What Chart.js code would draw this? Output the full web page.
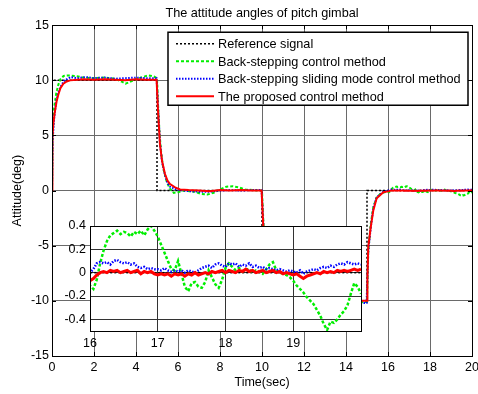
<!DOCTYPE html>
<html>
<head>
<meta charset="utf-8">
<script src="https://cdn.jsdelivr.net/npm/chart.js@4"></script>
<style>
  body { margin: 0; background: #fff; }
  #wrap { position: relative; width: 478px; height: 394px; }
  #main { position: absolute; left: 0; top: 0; }
  #inset { position: absolute; left: 50px; top: 206px; }
</style>
</head>
<body>
<div id="wrap">
  <canvas id="main" width="478" height="394"></canvas>
  <canvas id="inset" width="320" height="150"></canvas>
</div>
<script>
var FONT = 'Arial, "Liberation Sans", sans-serif';

// axis ticks
var xTicksMain = [0, 2, 4, 6, 8, 10, 12, 14, 16, 18, 20];
var yTicksMain = [-15, -10, -5, 0, 5, 10, 15];
var xTicksInset = [16, 17, 18, 19, 20];
var yTicksInset = [-0.4, -0.2, 0, 0.2, 0.4];

var seriesNames = ['Reference signal', 'Back-stepping control method',
  'Back-stepping sliding mode control method', 'The proposed control method'];

// reference signal
var refT = [0, 0, 5, 5, 10, 10, 15, 15, 20];
var refV = [0, 10, 10, 0, 0, -10, -10, 0, 0];

// back-stepping, t < 16
var bsT = [0, 0.03, 0.1, 0.2, 0.3, 0.4, 0.55, 0.8, 1.1, 1.5, 2, 2.5, 3, 3.3, 3.5, 3.7, 4, 4.3, 4.6, 4.85,
  5.0, 5.05, 5.12, 5.2, 5.3, 5.45, 5.6, 5.8, 6.0, 6.3, 6.8, 7.1, 7.4, 7.7, 8.0, 8.3, 8.6, 8.9, 9.2, 9.6,
  10.0, 10.05, 10.12, 10.2, 10.3, 10.45, 10.6, 10.8, 11.0, 12.0, 13.0, 14.0, 15.0, 15.06, 15.18, 15.3, 15.46, 15.7, 15.9];
var bsV = [0, 5.0, 7.5, 8.8, 9.6, 10.1, 10.4, 10.45, 10.4, 10.25, 10.2, 10.25, 10.15, 9.9, 9.7, 9.85, 10.1, 10.3, 10.45, 10.35,
  10.2, 7.8, 5.2, 3.4, 2.0, 0.9, 0.2, -0.2, -0.15, 0.0, -0.1, -0.3, -0.35, -0.2, 0.1, 0.35, 0.4, 0.3, 0.1, 0.05,
  0.0, -2.2, -4.8, -6.6, -8.0, -9.1, -9.8, -10.2, -10.4, -10.2, -10.0, -10.2, -10.1, -5.5, -3.0, -1.5, -0.6, -0.2, -0.12];

// back-stepping sliding mode, t < 16
var smT = [0, 0.03, 0.1, 0.2, 0.3, 0.46, 0.6, 0.9, 1.2, 1.6, 2, 2.5, 3, 3.5, 4, 4.5, 4.98, 5.05, 5.14, 5.24,
  5.38, 5.5, 5.62, 5.86, 6.1, 6.5, 7, 7.5, 8, 8.5, 9, 9.5, 9.98, 10.05, 10.14, 10.24, 10.38, 10.5, 10.62, 10.86,
  11.1, 12, 13, 14, 14.98, 15.06, 15.18, 15.3, 15.46, 15.78];
var smV = [0, 4.5, 6.5, 8.1, 8.9, 9.6, 10.0, 10.3, 10.2, 10.3, 10.2, 10.25, 10.15, 10.2, 10.25, 10.2, 10.2, 7.6, 4.4, 2.6,
  1.4, 0.7, 0.35, 0.15, 0.05, -0.05, -0.1, -0.1, 0.0, 0.05, 0.0, 0.05, 0.05, -2.6, -5.6, -7.4, -8.6, -9.3, -9.65, -9.85,
  -10.0, -10.2, -10.1, -10.2, -10.2, -5.5, -3.3, -1.6, -0.6, -0.1];

// proposed method, t < 16
var prT = [0, 0.02, 0.07, 0.14, 0.22, 0.3, 0.4, 0.54, 0.7, 0.86, 1.2, 1.5, 2, 2.5, 3, 3.5, 4, 4.5, 4.98, 5.05,
  5.14, 5.24, 5.38, 5.5, 5.62, 5.86, 6.1, 6.5, 7, 7.5, 8, 8.5, 9, 9.5, 9.98, 10.05, 10.14, 10.24, 10.38, 10.5,
  10.62, 10.86, 11.1, 12, 13, 14, 15, 15.02, 15.06, 15.18, 15.3, 15.46, 15.78];
var prV = [0, 4.8, 6.2, 7.2, 8.1, 8.7, 9.3, 9.7, 9.9, 10.0, 10.05, 10.1, 10.05, 10.1, 10.05, 10.0, 10.1, 10.05, 10.05, 7.2,
  4.2, 2.7, 1.5, 0.9, 0.6, 0.3, 0.1, 0.05, 0.02, -0.05, 0.05, 0.02, 0.05, 0.0, 0.0, -2.8, -5.8, -7.3, -8.5, -9.1,
  -9.4, -9.7, -9.9, -10.0, -10.0, -10.0, -10.0, -8.0, -5.1, -3.3, -1.8, -0.7, -0.15];

// zoomed window 16..20 s
var insetT = [16.00, 16.05, 16.10, 16.15, 16.20, 16.25, 16.30, 16.35, 16.40, 16.45,
  16.50, 16.55, 16.60, 16.65, 16.70, 16.75, 16.80, 16.85, 16.90, 16.95,
  17.00, 17.05, 17.10, 17.15, 17.20, 17.25, 17.30, 17.35, 17.40, 17.45,
  17.50, 17.55, 17.60, 17.65, 17.70, 17.75, 17.80, 17.85, 17.90, 17.95,
  18.00, 18.05, 18.10, 18.15, 18.20, 18.25, 18.30, 18.35, 18.40, 18.45,
  18.50, 18.55, 18.60, 18.65, 18.70, 18.75, 18.80, 18.85, 18.90, 18.95,
  19.00, 19.05, 19.10, 19.15, 19.20, 19.25, 19.30, 19.35, 19.40, 19.45,
  19.50, 19.55, 19.60, 19.65, 19.70, 19.75, 19.80, 19.85, 19.90, 19.95, 20.00];
var bsInset = [-0.11, -0.14, -0.06, 0.08, 0.19, 0.27, 0.32, 0.34, 0.36, 0.33,
  0.35, 0.34, 0.31, 0.35, 0.33, 0.36, 0.32, 0.37, 0.40, 0.36,
  0.31, 0.24, 0.17, 0.10, 0.03, 0.02, 0.10, -0.01, -0.12, -0.16,
  -0.09, -0.08, -0.12, -0.13, -0.08, 0.02, -0.04, -0.10, -0.13, -0.06,
  0.04, 0.08, 0.05, 0.02, 0.04, 0.01, 0.03, 0.03, 0.00, 0.02,
  0.01, -0.01, 0.03, 0.07, 0.09, 0.02, 0.00, -0.01, -0.02, -0.04,
  -0.07, -0.11, -0.14, -0.17, -0.21, -0.24, -0.27, -0.32, -0.37, -0.44,
  -0.49, -0.42, -0.43, -0.40, -0.36, -0.33, -0.28, -0.18, -0.09, -0.12, -0.18];
var smInset = [0.00, 0.03, 0.08, 0.09, 0.08, 0.09, 0.07, 0.10, 0.11, 0.09,
  0.08, 0.09, 0.07, 0.08, 0.05, 0.04, 0.05, 0.03, 0.04, 0.03,
  0.03, 0.02, 0.04, 0.02, 0.01, 0.02, 0.01, 0.02, 0.00, 0.02,
  0.01, 0.00, 0.02, 0.04, 0.05, 0.06, 0.04, 0.07, 0.08, 0.06,
  0.05, 0.08, 0.07, 0.08, 0.05, 0.07, 0.06, 0.08, 0.05, 0.06,
  0.04, 0.05, 0.03, 0.04, 0.03, 0.02, 0.03, 0.02, 0.01, 0.02,
  0.01, 0.00, 0.02, -0.01, 0.01, 0.02, 0.03, 0.02, 0.04, 0.05,
  0.04, 0.06, 0.05, 0.07, 0.08, 0.07, 0.09, 0.08, 0.07, 0.08, 0.07];
var prInset = [-0.07, -0.05, -0.02, 0.00, 0.01, 0.00, 0.02, 0.01, 0.02, 0.00,
  0.01, 0.02, 0.00, 0.01, 0.02, -0.01, 0.01, 0.00, 0.01, -0.01,
  -0.02, -0.01, -0.02, -0.01, -0.03, -0.01, -0.02, -0.01, -0.03, -0.01,
  -0.02, 0.00, -0.02, -0.01, 0.00, -0.01, 0.01, 0.00, 0.01, 0.02,
  0.00, 0.02, 0.01, 0.00, 0.02, 0.01, 0.03, 0.01, 0.02, 0.00,
  0.01, 0.02, 0.00, 0.01, 0.02, 0.00, 0.01, -0.01, 0.00, -0.01,
  -0.02, -0.01, -0.03, -0.05, -0.03, -0.02, -0.01, 0.00, -0.01, 0.01,
  0.00, 0.01, 0.00, 0.02, 0.01, 0.02, 0.01, 0.02, 0.03, 0.02, 0.03];

function zip(ts, vs) {
  return ts.map(function(t, i) { return {x: t, y: vs[i]}; });
}

var refData = zip(refT, refV);
var bsData = zip(bsT.concat(insetT), bsV.concat(bsInset));
var smData = zip(smT.concat(insetT), smV.concat(smInset));
var prData = zip(prT.concat(insetT), prV.concat(prInset));

function makeSets(thick) {
  return [
    {label: seriesNames[0], data: refData, borderColor: '#000000', borderWidth: 1.5, borderDash: [2, 2], order: 3},
    {label: seriesNames[1], data: bsData, borderColor: '#00ee00', borderWidth: thick ? 2.5 : 2, borderDash: [3, 2], order: 2},
    {label: seriesNames[2], data: smData, borderColor: '#0000ff', borderWidth: thick ? 2.5 : 2, borderDash: [1.5, 1.5], order: 1},
    {label: seriesNames[3], data: prData, borderColor: '#ff0000', borderWidth: thick ? 3 : 2, order: 0}
  ].map(function(d) {
    d.pointRadius = 0;
    d.fill = false;
    d.tension = 0;
    d.borderCapStyle = 'butt';
    if (thick) d.clip = 0;
    return d;
  });
}

function fixedTicks(list) {
  return function(scale) {
    scale.ticks = list.map(function(v) { return {value: v}; });
  };
}

var tickFont = {family: FONT, size: 12.5};

// box, inward tick marks
var framePlugin = {
  id: 'frame',
  afterDatasetsDraw: function(chart) {
    var ctx = chart.ctx, a = chart.chartArea;
    var sx = chart.scales.x, sy = chart.scales.y;
    ctx.save();
    ctx.strokeStyle = '#000';
    ctx.lineWidth = 1;
    ctx.strokeRect(Math.round(a.left) + 0.5, Math.round(a.top) + 0.5,
      Math.round(a.right - a.left), Math.round(a.bottom - a.top));
    ctx.beginPath();
    xTicksMain.forEach(function(v) {
      var px = Math.round(sx.getPixelForValue(v)) + 0.5;
      ctx.moveTo(px, a.top); ctx.lineTo(px, a.top + 4);
      ctx.moveTo(px, a.bottom); ctx.lineTo(px, a.bottom - 4);
    });
    yTicksMain.forEach(function(v) {
      var py = Math.round(sy.getPixelForValue(v)) + 0.5;
      ctx.moveTo(a.left, py); ctx.lineTo(a.left + 4, py);
      ctx.moveTo(a.right, py); ctx.lineTo(a.right - 4, py);
    });
    ctx.stroke();
    ctx.restore();
  }
};

var legendBoxPlugin = {
  id: 'legendBox',
  afterDraw: function(chart) {
    var ctx = chart.ctx, a = chart.chartArea;
    var w = 300, h = 73;
    var left = a.right - 4 - w, top = a.top + 7;
    ctx.save();
    ctx.fillStyle = '#fff';
    ctx.fillRect(left, top, w, h);
    ctx.strokeStyle = '#000';
    ctx.lineWidth = 1.5;
    ctx.strokeRect(left, top, w, h);
    ctx.font = '12.7px ' + FONT;
    ctx.textBaseline = 'middle';
    ctx.textAlign = 'left';
    chart.data.datasets.forEach(function(ds, i) {
      var y = top + 11.5 + i * 17.5;
      ctx.beginPath();
      ctx.strokeStyle = ds.borderColor;
      ctx.lineWidth = ds.borderWidth;
      ctx.setLineDash(ds.borderDash || []);
      ctx.moveTo(left + 8, y);
      ctx.lineTo(left + 46, y);
      ctx.stroke();
      ctx.setLineDash([]);
      ctx.fillStyle = '#000';
      ctx.fillText(ds.label, left + 50, y + 1);
    });
    ctx.restore();
  }
};

new Chart(document.getElementById('main'), {
  type: 'line',
  data: {datasets: makeSets(false)},
  options: {
    responsive: false,
    animation: false,
    devicePixelRatio: 1,
    layout: {padding: {left: 0, right: 6, top: 0, bottom: 0}},
    plugins: {
      legend: {display: false},
      tooltip: {enabled: false},
      title: {
        display: true,
        fullSize: false,
        text: 'The attitude angles of pitch gimbal',
        color: '#000',
        font: {family: FONT, size: 12.7, weight: 'normal'},
        padding: {top: 6, bottom: 4}
      }
    },
    scales: {
      x: {
        type: 'linear', min: 0, max: 20,
        afterBuildTicks: fixedTicks(xTicksMain),
        afterFit: function(s) { s.height = 38; s.paddingRight = 0; },
        ticks: {color: '#000', font: tickFont, padding: 4, autoSkip: false, maxRotation: 0},
        grid: {color: '#6a6a6a', drawTicks: false},
        border: {color: '#000'},
        title: {display: true, text: 'Time(sec)', color: '#000', font: tickFont, padding: {top: 0, bottom: 3.5}}
      },
      y: {
        type: 'linear', min: -15, max: 15,
        afterBuildTicks: fixedTicks(yTicksMain),
        afterFit: function(s) { s.width = 52; },
        ticks: {color: '#000', font: tickFont, padding: 3},
        grid: {color: '#6a6a6a', drawTicks: false},
        border: {color: '#000'},
        title: {display: true, text: 'Attitude(deg)', color: '#000', font: tickFont, padding: {top: 10, bottom: 0}}
      }
    }
  },
  plugins: [framePlugin, legendBoxPlugin]
});

// inset: white plot area with a box
var insetPlugin = {
  id: 'insetBox',
  beforeDraw: function(chart) {
    var ctx = chart.ctx, a = chart.chartArea;
    ctx.save();
    ctx.fillStyle = '#fff';
    ctx.fillRect(a.left, a.top, a.right - a.left, a.bottom - a.top);
    ctx.restore();
  },
  afterDraw: function(chart) {
    var ctx = chart.ctx, a = chart.chartArea;
    ctx.save();
    ctx.strokeStyle = '#000';
    ctx.lineWidth = 1;
    ctx.strokeRect(Math.round(a.left) + 0.5, Math.round(a.top) + 0.5,
      Math.round(a.right - a.left), Math.round(a.bottom - a.top));
    ctx.restore();
  }
};

new Chart(document.getElementById('inset'), {
  type: 'line',
  data: {datasets: makeSets(true)},
  options: {
    responsive: false,
    animation: false,
    devicePixelRatio: 1,
    layout: {padding: {left: 0, right: 9, top: 20, bottom: 0}},
    plugins: {legend: {display: false}, tooltip: {enabled: false}},
    scales: {
      x: {
        type: 'linear', min: 16, max: 20,
        afterBuildTicks: fixedTicks(xTicksInset),
        afterFit: function(s) { s.height = 25; s.paddingRight = 0; s.paddingLeft = 0; },
        ticks: {
          color: '#000', font: tickFont, padding: 5, autoSkip: false, maxRotation: 0,
          callback: function(v) { return v === 20 ? '' : String(v); }
        },
        grid: {color: '#333', drawTicks: false},
        border: {color: '#000'}
      },
      y: {
        type: 'linear', min: -0.5, max: 0.4,
        afterBuildTicks: fixedTicks(yTicksInset),
        afterFit: function(s) { s.width = 40; },
        ticks: {
          color: '#000', font: tickFont, padding: 4,
          callback: function(v) { return v === 0 ? '0' : v.toFixed(1); }
        },
        grid: {color: '#333', drawTicks: false},
        border: {color: '#000'}
      }
    }
  },
  plugins: [insetPlugin]
});
</script>
</body>
</html>
